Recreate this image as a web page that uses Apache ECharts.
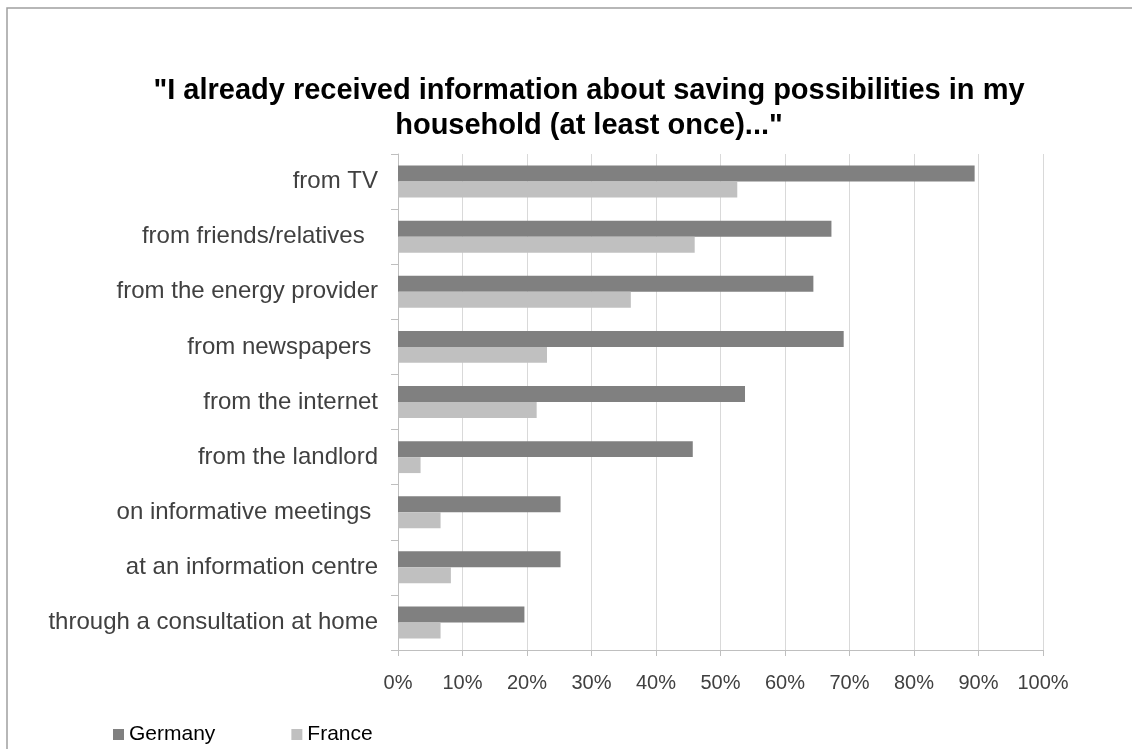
<!DOCTYPE html>
<html>
<head>
<meta charset="utf-8">
<script src="https://cdn.jsdelivr.net/npm/echarts@6/dist/echarts.min.js"></script>
<style>
  html, body { margin: 0; padding: 0; background: #ffffff; }
  #chart { width: 1132px; height: 749px; }
</style>
</head>
<body>
<div id="chart"></div>
<script>
// Information sources, top to bottom
const categories = [
  'from TV',
  'from friends/relatives  ',
  'from the energy provider',
  'from newspapers ',
  'from the internet',
  'from the landlord',
  'on informative meetings ',
  'at an information centre',
  'through a consultation at home'
];

// Share of respondents (%)
const germany = [89.4, 67.2, 64.4, 69.1, 53.8, 45.7, 25.2, 25.2, 19.6];
const france  = [52.6, 46.0, 36.1, 23.1, 21.5, 3.5, 6.6, 8.2, 6.6];

const seriesNames = ['Germany', 'France'];
const xTicks = { min: 0, max: 100, step: 10 };

const chart = echarts.init(document.getElementById('chart'), null, { renderer: 'canvas' });

const font = '"Liberation Sans", Arial, sans-serif';

chart.setOption({
  backgroundColor: '#ffffff',
  animation: false,
  textStyle: { fontFamily: font },
  title: {
    text: '"I already received information about saving possibilities in my\nhousehold (at least once)..."',
    left: 584,
    textAlign: 'center',
    top: 68,
    textStyle: {
      fontFamily: font,
      fontWeight: 'bold',
      fontSize: 29,
      lineHeight: 35,
      color: '#000000'
    }
  },
  graphic: [{
    type: 'rect',
    silent: true,
    shape: { x: 7, y: 8, width: 1200, height: 800 },
    style: { fill: 'none', stroke: '#a0a0a0', lineWidth: 1.5 }
  }],
  legend: {
    data: seriesNames,
    left: 108,
    top: 719,
    icon: 'rect',
    itemWidth: 11,
    itemHeight: 11,
    itemGap: 76,
    textStyle: { fontFamily: font, fontSize: 21, color: '#000000' }
  },
  grid: { left: 398, right: 89, top: 154, bottom: 99, containLabel: false },
  xAxis: {
    type: 'value',
    min: xTicks.min,
    max: xTicks.max,
    interval: xTicks.step,
    axisLine: { show: true, lineStyle: { color: '#bfbfbf', width: 1 } },
    axisTick: { show: true, length: 6, lineStyle: { color: '#bfbfbf' } },
    splitLine: { show: true, lineStyle: { color: '#d9d9d9', width: 1 } },
    axisLabel: {
      formatter: '{value}%',
      margin: 23,
      fontFamily: font,
      fontSize: 20,
      color: '#404040'
    }
  },
  yAxis: {
    type: 'category',
    inverse: true,
    data: categories,
    axisLine: { show: true, lineStyle: { color: '#bfbfbf', width: 1 } },
    axisTick: { show: true, length: 7, lineStyle: { color: '#bfbfbf' } },
    splitLine: { show: false },
    axisLabel: {
      margin: 20,
      fontFamily: font,
      fontSize: 24,
      color: '#404040'
    }
  },
  series: [
    {
      name: seriesNames[0],
      type: 'bar',
      data: germany,
      itemStyle: { color: '#808080' },
      barGap: '0%',
      barCategoryGap: '42%'
    },
    {
      name: seriesNames[1],
      type: 'bar',
      data: france,
      itemStyle: { color: '#c0c0c0' },
      barGap: '0%',
      barCategoryGap: '42%'
    }
  ]
});
</script>
</body>
</html>
